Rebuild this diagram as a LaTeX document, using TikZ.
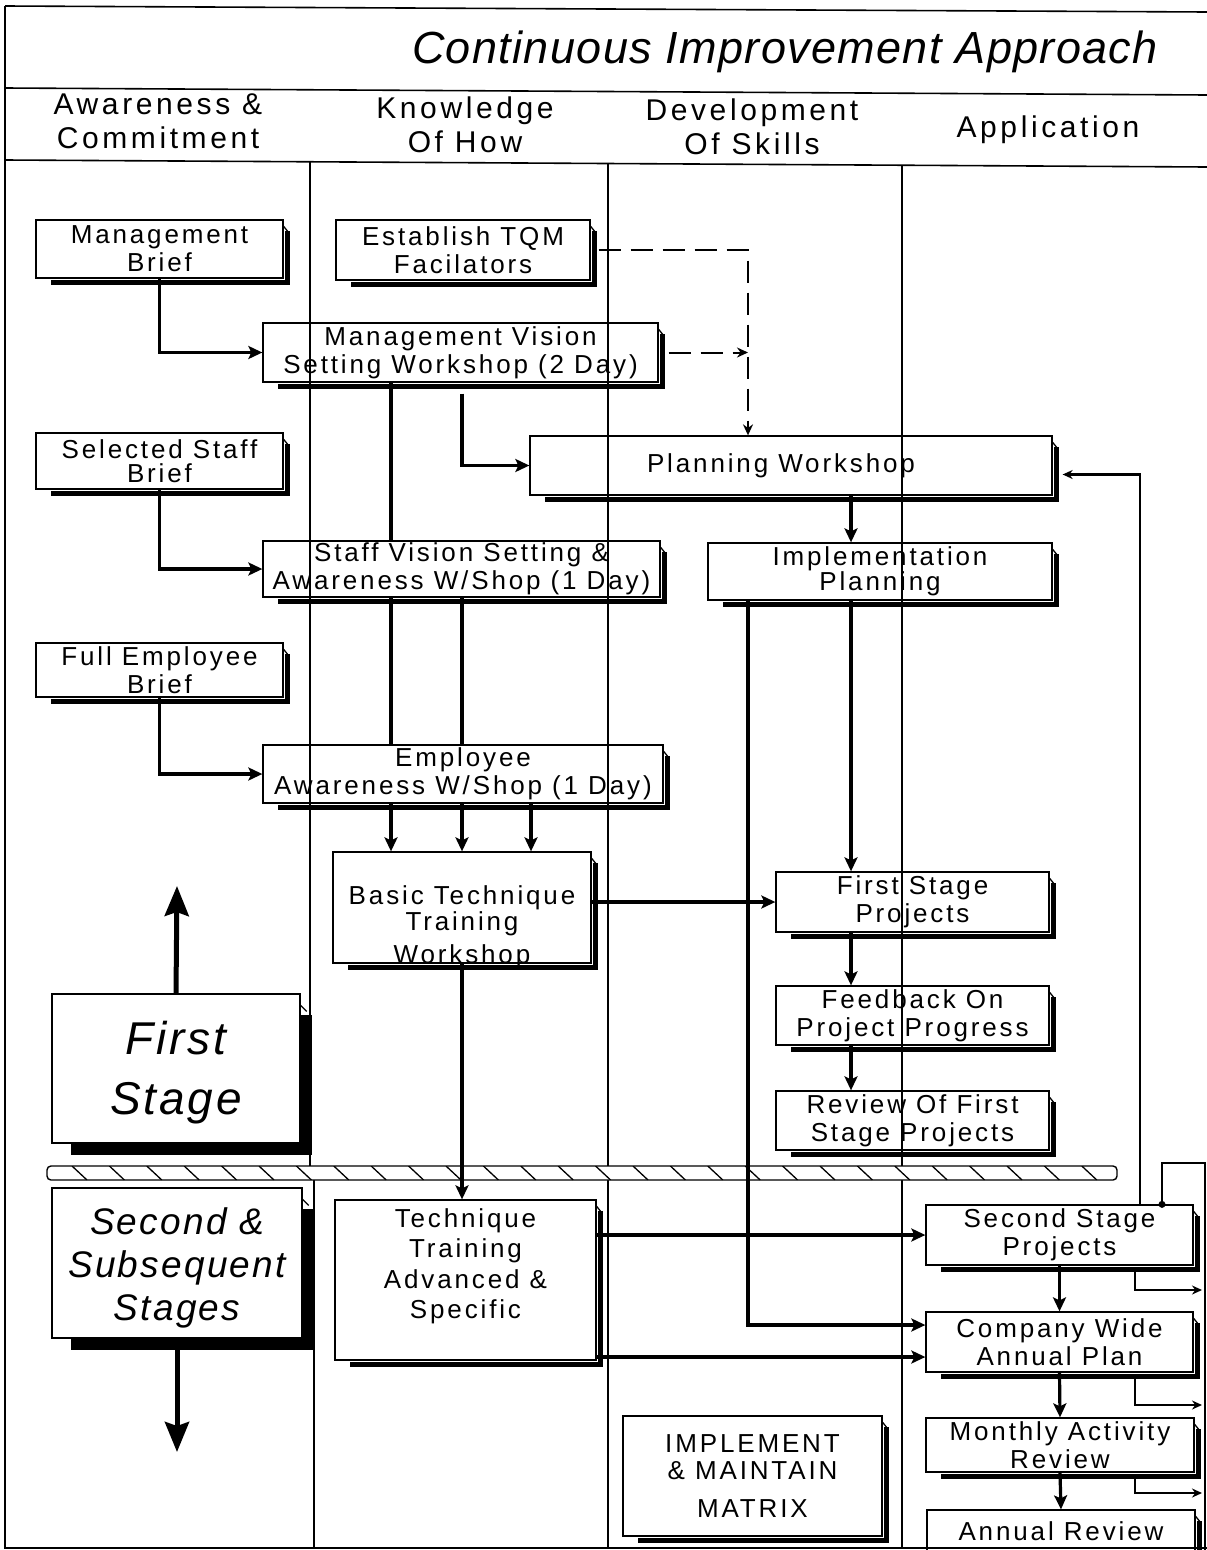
\documentclass[tikz,border=0pt]{standalone}
\usepackage{fontspec}
\setmainfont{Liberation Sans}
\newfontfamily\boxfont[LetterSpace=11]{Liberation Sans}
\newfontfamily\headfont[LetterSpace=12]{Liberation Sans}
\newfontfamily\titlefont[LetterSpace=3]{Liberation Sans}
\newfontfamily\stagefont[LetterSpace=6]{Liberation Sans}
\usetikzlibrary{arrows.meta,calc}

% fixed-size text block for a box: width, height, text
\newcommand{\boxtext}[3]{\parbox[c][#2pt][c]{#1pt}{\centering #3}}

\tikzset{
  frameline/.style={line width=1.6pt},
  colline/.style={line width=1.4pt},
  boxnode/.style={draw, line width=1.3pt, inner sep=0pt, font=\boxfont\fontsize{26}{28}\selectfont},
  stagenode/.style={draw, line width=1.3pt, inner sep=0pt},
  shadowline/.style={line width=5pt},
  bigshadow/.style={line width=11pt},
  cornerhook/.style={line width=1.3pt},
  link/.style={line width=3.2pt},
  conn/.style={line width=3.2pt, -{Stealth[length=14pt,width=13pt,inset=3pt]}},
  thinline/.style={line width=2.2pt},
  thinconn/.style={line width=2.2pt, -{Stealth[length=10pt,width=9pt]}},
  dashconn/.style={line width=2pt, dash pattern=on 22pt off 10pt, -{Stealth[length=11pt,width=10pt]}},
  bigarrow/.style={line width=5pt, -{Stealth[length=30pt,width=24pt,inset=4pt]}},
  headtext/.style={font=\headfont\fontsize{30}{34}\selectfont, align=center, inner sep=0pt},
}

\begin{document}
\begin{tikzpicture}[x=1pt, y=-1pt]
\useasboundingbox (0,0) rectangle (1207,1550);

% ---- frame and column grid
\draw[frameline] (5,6) -- (1207,12);
\draw[frameline] (5,6) -- (5,1548) -- (1207,1548);
\draw[frameline] (5,88) -- (1207,95);
\draw[frameline] (5,160) -- (1207,167);
\draw[colline] (310,161) -- (310,1166);
\draw[colline] (314,1180) -- (314,1548);
\draw[colline] (608,163) -- (608,1548);
\draw[colline] (902,165) -- (902,1548);

% ---- titles
\node[inner sep=0pt, font=\titlefont\itshape\fontsize{45}{50}\selectfont] (ttl) at (785,52) {Continuous Improvement Approach};
\node[headtext] (h1) at (158,121) {Awareness \&\\Commitment};
\node[headtext] (h2) at (465,125) {Knowledge\\Of How};
\node[headtext] (h3) at (752,127) {Development\\Of Skills};
\node[headtext] (h4) at (1048,130) {Application};

% ---- stage divider band
\fill[white, rounded corners=4pt] (47,1166) rectangle (1117,1180);
\begin{scope}
  \clip[rounded corners=4pt] (47,1166) rectangle (1117,1180);
  \foreach \k in {0,...,28}
    \draw[line width=1.3pt] ({72+37.4*\k},1166) -- ({87+37.4*\k},1180);
\end{scope}
\draw[line width=1.4pt, rounded corners=4pt] (47,1166) rectangle (1117,1180);

% ---- boxes
\node[boxnode] (mb)  at (159.5,249)   {\boxtext{247}{58}{Management\\Brief}};
\node[boxnode] (tqm) at (463,250)     {\boxtext{254}{60}{Establish TQM\\Facilators}};
\node[boxnode] (mv)  at (460.5,352.5) {\boxtext{395}{59}{Management Vision\\Setting Workshop (2 Day)}};
\node[boxnode] (ssb) at (159.5,461)   {\boxtext{247}{56}{Selected Staff\\[-4pt]Brief}};
\node[boxnode] (pw)  at (791,465.5)   {\boxtext{522}{59}{\hspace*{-20pt}Planning Workshop}};
\node[boxnode] (sv)  at (461.5,569)   {\boxtext{397}{56}{Staff Vision Setting \&\\Awareness W/Shop (1 Day)}};
\node[boxnode] (ip)  at (880,571.5)   {\boxtext{344}{57}{Implementation\\[-3pt]Planning}};
\node[boxnode] (feb) at (159.5,670)   {\boxtext{247}{54}{Full Employee\\Brief}};
\node[boxnode] (ea)  at (463,774)     {\boxtext{400}{58}{Employee\\Awareness W/Shop (1 Day)}};
\node[boxnode] (bt)  at (462,907.5)   {\boxtext{258}{111}{\vspace*{40pt}Basic Technique\\[-2pt]Training\\[5pt]Workshop}};
\node[boxnode] (fsp) at (912.5,902)   {\boxtext{273}{60}{First Stage\\Projects}};
\node[boxnode] (fb)  at (912.5,1015.5){\boxtext{273}{59}{Feedback On\\Project Progress}};
\node[boxnode] (rv)  at (912.5,1120.5){\boxtext{273}{59}{Review Of First\\Stage Projects}};
\node[stagenode, font=\stagefont\itshape\fontsize{46}{60}\selectfont] (fs) at (176,1068.5) {\boxtext{248}{149}{\vspace*{8pt}First\\Stage}};
\node[stagenode, font=\stagefont\itshape\fontsize{37}{43}\selectfont] (ss) at (177,1263) {\boxtext{250}{150}{\vspace*{10pt}Second \&\\Subsequent\\Stages}};
\node[boxnode] (tt)  at (465.5,1280)  {\boxtext{261}{160}{Technique\\[2pt]Training\\[3pt]Advanced \&\\[2pt]Specific\par\vspace*{28pt}}};
\node[boxnode] (ssp) at (1059.5,1235) {\boxtext{267}{60}{Second Stage\\Projects}};
\node[boxnode] (cw)  at (1059.5,1342) {\boxtext{267}{60}{Company Wide\\Annual Plan}};
\node[boxnode] (mar) at (1060,1445)   {\boxtext{268}{54}{Monthly Activity\\Review}};
\node[boxnode] (ar)  at (1061,1531)   {\boxtext{268}{42}{Annual Review}};
\node[boxnode] (imm) at (752.5,1476)  {\boxtext{259}{120}{IMPLEMENT\\[-1pt]\& MAINTAIN\\[10pt]MATRIX}};

% ---- drop shadows with the small hook at the top right corner
\foreach \n in {mb,tqm,mv,ssb,pw,sv,ip,feb,ea,bt,fsp,fb,rv,tt,ssp,cw,mar,ar,imm} {
  \draw[shadowline] ($(\n.north east)+(3.5,12)$) -- ($(\n.south east)+(3.5,3.5)$) -- ($(\n.south west)+(16,3.5)$);
  \draw[cornerhook] ($(\n.north east)+(0,7)$) -- ($(\n.north east)+(4,12)$);
}
\foreach \n in {fs,ss} {
  \draw[bigshadow] ($(\n.north east)+(6,22)$) -- ($(\n.south east)+(6,6)$) -- ($(\n.south west)+(20,6)$);
  \draw[cornerhook] ($(\n.north east)+(0,12)$) -- ($(\n.north east)+(6,18)$);
}

% ---- guide positions for vertical runs
\coordinate (xA) at (391,0);
\coordinate (xB) at (462,0);
\coordinate (xC) at (531,0);
\coordinate (xD) at (748,0);
\coordinate (xE) at (851,0);
\coordinate (xF) at (1140,0);
\coordinate (xG) at (1162,0);
\coordinate (xK) at (1135,0);
\coordinate (loopcorner) at (1205,1163);
\coordinate (rightend) at (1205,1550);
\coordinate (b1) at (1202,1290);
\coordinate (b2) at (1202,1405);
\coordinate (b3) at (1202,1493);
\coordinate (uptip) at (177,886);
\coordinate (downtip) at (177,1452);
\coordinate (cwin1) at ($(cw.west)+(0,-17)$);
\coordinate (cwin2) at ($(cw.west)+(0,15)$);
\coordinate (pwin) at ($(pw.east)+(10,9)$);

% ---- connectors: awareness column
\draw[conn] (mb.south) |- (mv.west);
\draw[conn] (ssb.south) |- (sv.west);
\draw[conn] (feb.south) |- (ea.west);

% ---- connectors: knowledge column
\draw[link] (mv.south -| xA) -- (sv.north -| xA);
\draw[link] (sv.south -| xA) -- (ea.north -| xA);
\draw[conn] (ea.south -| xA) -- (bt.north -| xA);
\draw[conn] ($(mv.south -| xB)+(0,11)$) |- (pw.west);
\draw[link] (sv.south -| xB) -- (ea.north -| xB);
\draw[conn] (ea.south -| xB) -- (bt.north -| xB);
\draw[conn] (ea.south -| xC) -- (bt.north -| xC);
\draw[conn] (bt.south -| xB) -- (tt.north -| xB);

% ---- facilitator links (dashed)
\draw[dashconn] ($(tqm.east)+(8,0)$) -| (pw.north -| xD);
\draw[dashconn] ($(mv.east)+(10,0)$) -- (mv.east -| xD);

% ---- planning and first stage chain
\draw[conn] (pw.south -| xE) -- (ip.north -| xE);
\draw[conn] (ip.south -| xE) -- (fsp.north -| xE);
\draw[conn] (ip.south -| xD) |- (cwin1);
\draw[conn] (bt.east |- fsp.west) -- (fsp.west);
\draw[conn] (fsp.south -| xE) -- (fb.north -| xE);
\draw[conn] (fb.south -| xE) -- (rv.north -| xE);

% ---- second stage chain
\draw[conn] (tt.east |- ssp.west) -- (ssp.west);
\draw[conn] (tt.east |- cwin2) -- (cwin2);
\draw[conn] (ssp.south) -- (cw.north);
\draw[conn] (cw.south) -- (mar.north);
\draw[conn] (mar.south) -- (ar.north);

% ---- feedback loops on the right
\draw[thinconn, line width=2.6pt] (ssp.north -| xF) |- (pwin);
\draw[thinline] (ssp.north -| xG) |- (loopcorner) -- (rightend);
\fill (ssp.north -| xG) circle (3.5);
\draw[thinconn] ($(ssp.south -| xK)+(0,4)$) |- (b1);
\draw[thinconn] ($(cw.south -| xK)+(0,4)$) |- (b2);
\draw[thinconn] ($(mar.south -| xK)+(0,4)$) |- (b3);

% ---- stage arrows
\draw[bigarrow] (fs.north) -- (uptip);
\draw[bigarrow] ($(ss.south)+(0,8)$) -- (downtip);
\end{tikzpicture}
\end{document}
